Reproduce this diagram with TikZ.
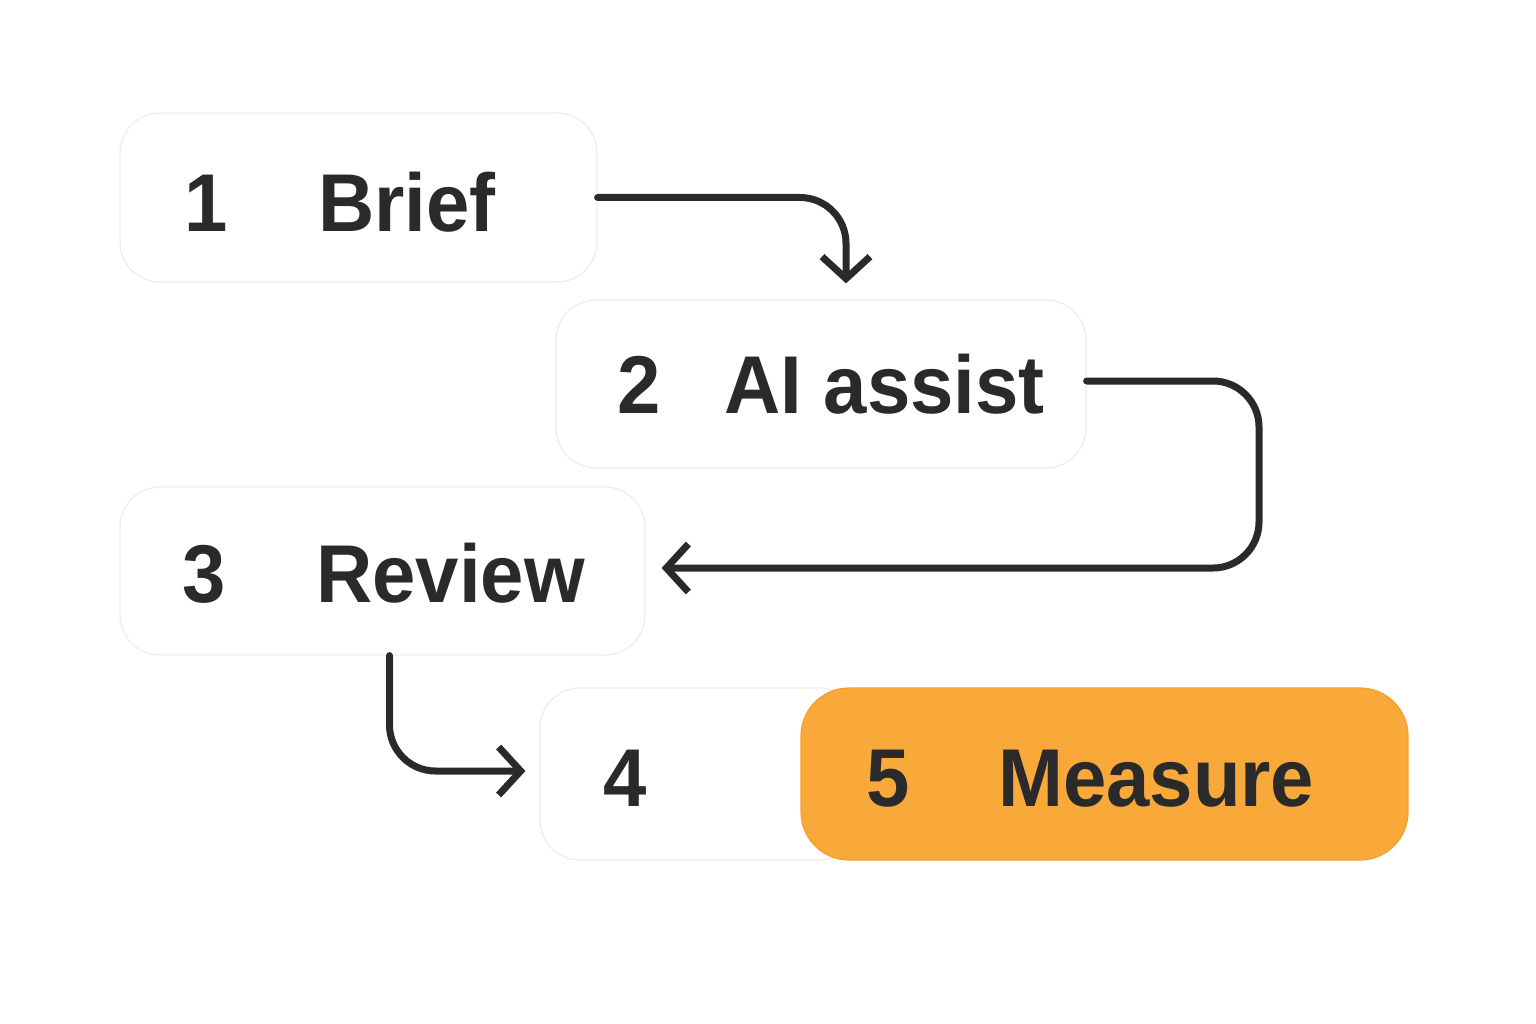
\documentclass[tikz,border=0pt]{standalone}
\usepackage{fontspec}
\setmainfont{Liberation Sans}[FakeStretch=0.95]
\usetikzlibrary{arrows.meta,calc}
\definecolor{ink}{HTML}{2A2A2A}
\definecolor{edge}{HTML}{EFEDE6}
\definecolor{orng}{HTML}{F9A93A}
\definecolor{orngedge}{HTML}{F6A02E}
\tikzset{
  card/.style={draw=edge, line width=1.2pt, fill=white, rounded corners=40pt, inner sep=0pt},
  hot/.style={draw=orngedge, line width=1.2pt, fill=orng, rounded corners=48pt, inner sep=0pt},
  lbl/.style={anchor=base west, inner sep=0pt, text=ink, font=\fontsize{82}{82}\selectfont\bfseries},
  arr/.style={draw=ink, line width=7pt, line cap=round, line join=round, rounded corners=46pt,
    -{Straight Barb[length=22pt,width=48pt,line width=7pt]}}
}
\begin{document}
\begin{tikzpicture}[x=1pt,y=-1pt]
\useasboundingbox (0,0) rectangle (1536,1024);
\fill[white] (0,0) rectangle (1536,1024);
% boxes
\node[card, minimum width=477pt, minimum height=169pt] (b1) at (358.5,197.5) {};
\node[card, minimum width=530pt, minimum height=168pt] (b2) at (821,384) {};
\node[card, minimum width=525pt, minimum height=168pt] (b3) at (382.5,571) {};
\node[card, minimum width=320pt, minimum height=172pt] (b4) at (700,774) {};
\node[hot, minimum width=607pt, minimum height=172pt] (b5) at (1104.5,774) {};
% texts
\node[lbl] (n1) at (184,232) {1};
\node[lbl] (t1) at (318,232) {Brief};
\node[lbl] (n2) at (617,413) {2};
\node[lbl] (t2) at (724,413) {AI assist};
\node[lbl] (n3) at (182,602) {3};
\node[lbl] (t3) at (316,602) {Review};
\node[lbl] (n4) at (603,806) {4};
\node[lbl] (n5) at (866,806) {5};
\node[lbl] (t5) at (998,806) {Measure};
% connectors
\coordinate (e1) at ($(b2.north)+(25,-16)$);
\draw[arr] (b1.east) -| (e1);
\coordinate (m2) at (1259,475);
\coordinate (e2) at ($(b3.east)+(16,-3)$);
\draw[arr] ($(b2.east)+(0,-3)$) -| (m2) |- (e2);
\coordinate (e3) at ($(b4.west)+(-14,-3)$);
\draw[arr] ($(b3.south)+(7,0)$) |- (e3);
\end{tikzpicture}
\end{document}
